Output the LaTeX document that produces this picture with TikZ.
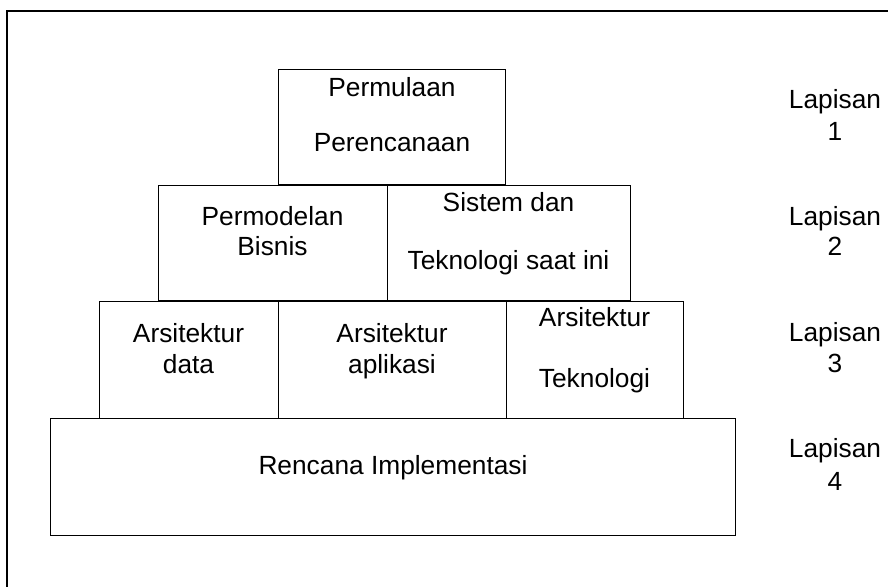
\documentclass[tikz,border=0pt]{standalone}
\usepackage{fontspec}
\setmainfont{Liberation Sans}
\begin{document}
\begin{tikzpicture}[x=1bp,y=-1bp,
  box/.style={draw,line width=1bp,minimum width=#1,inner sep=0pt,outer sep=0pt},
  txt/.style={anchor=base,inner sep=0pt,font=\fontsize{26.3bp}{30bp}\selectfont},
  frame/.style={line width=1.1bp}]
  \useasboundingbox (0,0) rectangle (888,587);
  % outer frame: top rule and left rule
  \coordinate (fl) at (7,11);
  \coordinate (fr) at (888,11);
  \coordinate (fb) at (7,587);
  \draw[frame] (fr) -- (fl) -- (fb);

  % layer 1
  \node[box=227bp,minimum height=115bp] (b1) at (392,127.5) {};
  % layer 2
  \node[box=229bp,minimum height=115bp] (b2a) at (272.5,243) {};
  \node[box=243bp,minimum height=115bp] (b2b) at (508.5,243) {};
  % layer 3
  \node[box=179bp,minimum height=117bp] (b3a) at (188.5,359.5) {};
  \node[box=228bp,minimum height=117bp] (b3b) at (392,359.5) {};
  \node[box=177bp,minimum height=117bp] (b3c) at (594.5,359.5) {};
  % layer 4
  \node[box=684bp,minimum height=117bp] (b4) at (393,476.5) {};

  % box texts
  \node[txt] (t1a) at (392,97) {Permulaan};
  \node[txt] (t1b) at (392,152) {Perencanaan};
  \node[txt] (t2a) at (272.5,226) {Permodelan};
  \node[txt] (t2b) at (272.5,256) {Bisnis};
  \node[txt] (t2c) at (508.5,212) {Sistem dan};
  \node[txt] (t2d) at (508.5,269) {Teknologi saat ini};
  \node[txt] (t3a) at (188.5,342) {Arsitektur};
  \node[txt] (t3b) at (188.5,373) {data};
  \node[txt] (t3c) at (392,342) {Arsitektur};
  \node[txt] (t3d) at (392,373) {aplikasi};
  \node[txt] (t3e) at (594.5,326) {Arsitektur};
  \node[txt] (t3f) at (594.5,387) {Teknologi};
  \node[txt] (t4a) at (393,474) {Rencana Implementasi};

  % layer labels
  \node[txt] (l1a) at (835,109) {Lapisan};
  \node[txt] (l1b) at (835,141) {1};
  \node[txt] (l2a) at (835,226) {Lapisan};
  \node[txt] (l2b) at (835,256) {2};
  \node[txt] (l3a) at (835,341) {Lapisan};
  \node[txt] (l3b) at (835,372) {3};
  \node[txt] (l4a) at (835,457) {Lapisan};
  \node[txt] (l4b) at (835,490) {4};
\end{tikzpicture}
\end{document}
